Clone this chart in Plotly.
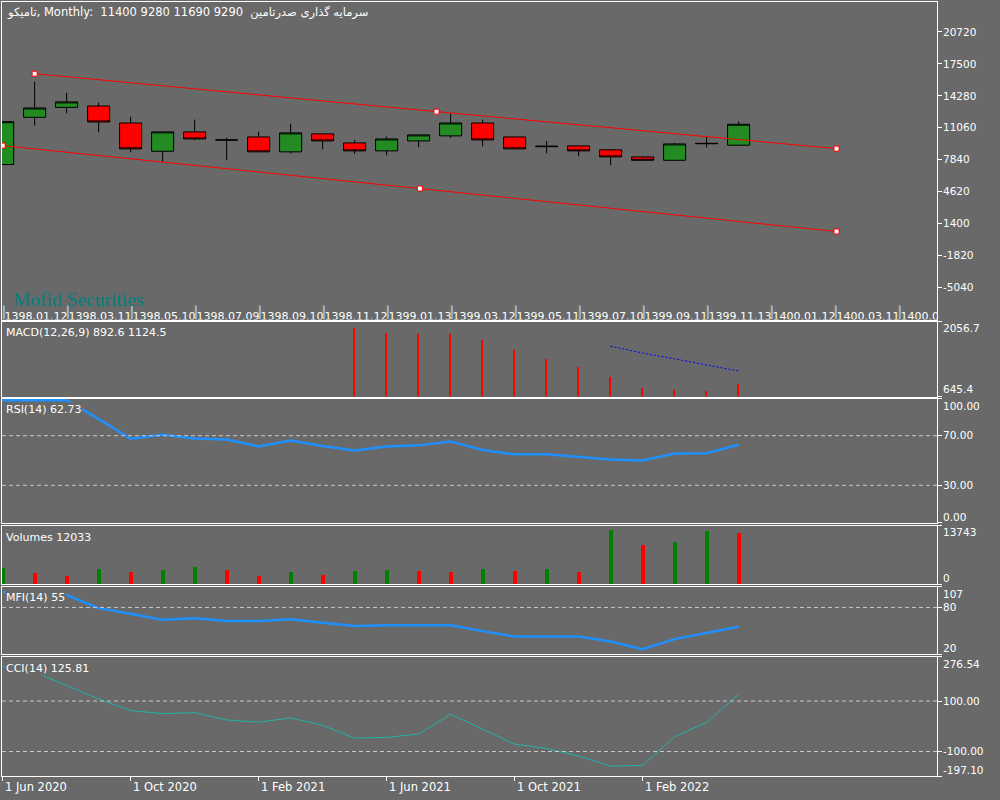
import plotly.graph_objects as go

BG = "#696969"
FONT = "DejaVu Sans"

# monthly bars, Jun 2020 .. May 2022 (bar index 0..23)
bar_idx = list(range(24))
opens = [7340, 12100, 13100, 13240, 11530, 8680, 10630, 9820, 10120, 8620, 10430, 9520,
         8720, 9720, 10230, 11530, 10120, 9200, 9220, 8820, 8110, 7770, 9480, 9290]
highs = [11700, 15690, 14580, 13580, 12170, 10630, 11870, 10050, 10660, 11460, 10430, 9820,
         10150, 10330, 12470, 11870, 10120, 9720, 9220, 8920, 8210, 9520, 10230, 11690]
lows = [7300, 11260, 12500, 10590, 8580, 7610, 9820, 7770, 8620, 8470, 8880, 8410,
        8270, 9080, 10020, 9180, 8920, 8470, 8170, 7270, 7670, 7770, 9080, 9280]
closes = [11660, 13040, 13650, 11630, 8920, 10630, 9920, 9820, 8620, 10530, 9720, 8720,
          9920, 10330, 11530, 9820, 8920, 9150, 8720, 8110, 7770, 9420, 9450, 11400]

# channel lines (bar index, price)
upper_x = [1, 13.56, 26.06]
upper_y = [16494, 12670, 8947]
lower_x = [0.0, 13.04, 26.06]
lower_y = [9249, 4922, 595]

price_ticks = [20720, 17500, 14280, 11060, 7840, 4620, 1400, -1820, -5040]

jalali_pos = list(range(0, 30, 2))
jalali_labels = ["1398.01.12", "1398.03.11", "1398.05.10", "1398.07.09", "1398.09.10",
                 "1398.11.12", "1399.01.13", "1399.03.12", "1399.05.11", "1399.07.10",
                 "1399.09.11", "1399.11.13", "1400.01.12", "1400.03.11", "1400.05.10"]

macd_x = list(range(11, 24))
macd_hist = [1935, 1857, 1824, 1838, 1722, 1535, 1366, 1206, 1013, 819, 786, 761, 892.6]
signal_x = list(range(19, 24))
signal_vals = [1592, 1463, 1354, 1239, 1124.5]

rsi = [98.5, 98.5, 98.5, 83.5, 67.5, 70.8, 67.8, 67.0, 61.4, 66.2, 61.7, 58.0,
       61.2, 62.2, 65.4, 58.5, 55.0, 55.0, 53.2, 50.8, 50.0, 55.6, 55.8, 62.73]

volumes = [3890, 2696, 1980, 3650, 2935, 3412, 4128, 3412, 1980, 2935, 2219, 3173,
           3412, 3173, 2935, 3650, 3173, 3650, 2935, 12717, 9377, 10093, 12479, 12033]

mfi = [100, 97.5, 96, 79.1, 71.8, 64.0, 66.0, 62.6, 62.6, 64.7, 60.4, 56.1,
       56.9, 56.9, 56.9, 49.5, 42.6, 42.6, 42.6, 36.1, 26.2, 39.2, 47.4, 55]

cci = [238, 215, 161, 108, 62, 50, 54, 25, 16, 33, 4, -47,
       -44, -31, 48, -11, -71, -88, -118, -158, -155, -42, 16, 125.81]

month_ticks = [0, 4, 8, 12, 16, 20]
month_labels = ["1 Jun 2020", "1 Oct 2020", "1 Feb 2021", "1 Jun 2021", "1 Oct 2021", "1 Feb 2022"]

vol_colors = ["#008000"] + ["#008000" if volumes[k] > volumes[k - 1] else "#FF0000"
                            for k in range(1, len(volumes))]

# panel pixel bounds (top, bottom)
panels = [(2, 319.5), (321.5, 396.5), (398.5, 522.5), (525.5, 584), (586.5, 654), (656.5, 776)]
ranges = [[-8270, 23717], [645.4, 2056.7], [0, 100], [0, 13743], [20, 107], [-197.10, 276.54]]
tickvals = [price_ticks, [645.4, 2056.7], [0, 30, 70, 100], [0, 13743], [20, 80, 107],
            [-197.10, -100, 100, 276.54]]

fig = go.Figure()

fig.add_trace(go.Candlestick(
    x=bar_idx, open=opens, high=highs, low=lows, close=closes,
    increasing=dict(fillcolor="#228B22", line=dict(color="black", width=1)),
    decreasing=dict(fillcolor="#FF0000", line=dict(color="black", width=1)),
    whiskerwidth=0, xaxis="x", yaxis="y", hoverinfo="skip"))

for cx, cy in [(upper_x, upper_y), (lower_x, lower_y)]:
    fig.add_trace(go.Scatter(
        x=cx, y=cy, mode="lines+markers", line=dict(color="#FF0000", width=1),
        marker=dict(symbol="square", size=5, color="white", line=dict(color="#FF0000", width=1)),
        xaxis="x", yaxis="y"))

# separator marks for the date strip
mk_top, mk_bot = -6856, -8270
for off, col in [(-0.03, "#E8A868"), (0.0, "#9CC8F0")]:
    xs, ys = [], []
    for p in jalali_pos:
        xs += [p + off + 0.05, p + off + 0.05, None]
        ys += [mk_bot, mk_top, None]
    fig.add_trace(go.Scatter(x=xs, y=ys, mode="lines", line=dict(color=col, width=1),
                             xaxis="x", yaxis="y", hoverinfo="skip"))

fig.add_trace(go.Scatter(
    x=[p + 0.06 for p in jalali_pos], y=[-8050] * len(jalali_pos), mode="text",
    text=jalali_labels, textposition="middle right",
    textfont=dict(family=FONT, size=11, color="white"), xaxis="x", yaxis="y"))

fig.add_trace(go.Bar(x=macd_x, y=macd_hist, width=0.05, marker=dict(color="#FF0000", line=dict(width=0)),
                     xaxis="x2", yaxis="y2"))
fig.add_trace(go.Scatter(x=signal_x, y=signal_vals, mode="lines",
                         line=dict(color="#0000FF", width=1, dash="2px,2px"), xaxis="x2", yaxis="y2"))

fig.add_trace(go.Scatter(x=bar_idx, y=rsi, mode="lines", line=dict(color="#1E90FF", width=2.5),
                         xaxis="x3", yaxis="y3"))

fig.add_trace(go.Bar(x=bar_idx, y=volumes, width=0.125, marker=dict(color=vol_colors, line=dict(width=0)),
                     xaxis="x4", yaxis="y4"))

fig.add_trace(go.Scatter(x=bar_idx, y=mfi, mode="lines", line=dict(color="#1E90FF", width=2.5),
                         xaxis="x5", yaxis="y5"))

fig.add_trace(go.Scatter(x=bar_idx, y=cci, mode="lines", line=dict(color="#20B2AA", width=1),
                         xaxis="x6", yaxis="y6"))

layout = dict(
    width=1000, height=800, paper_bgcolor=BG, plot_bgcolor=BG,
    margin=dict(l=0, r=0, t=0, b=0), showlegend=False, bargap=0,
    boxgap=0.31, boxgroupgap=0,
    font=dict(family=FONT, size=11, color="white"),
)
xr = [-0.02, 29.2]
for k, (top, bot) in enumerate(panels):
    n = "" if k == 0 else str(k + 1)
    last = k == len(panels) - 1
    layout["xaxis" + n] = dict(
        domain=[0.002, 0.937], range=xr, anchor="y" + n, showgrid=False, zeroline=False,
        showline=True, mirror=True, linecolor="white", linewidth=1,
        tickvals=month_ticks if last else [], ticks="outside" if last else "",
        ticklen=4, tickcolor="white", showticklabels=False, fixedrange=True,
        rangeslider=dict(visible=False))
    layout["yaxis" + n] = dict(
        domain=[1 - bot / 800, 1 - top / 800], range=ranges[k], anchor="x" + n, side="right",
        showgrid=False, zeroline=False, showline=True, mirror=True, linecolor="white",
        linewidth=1, tickvals=tickvals[k], ticks="outside", ticklen=4, tickcolor="white",
        showticklabels=False)
fig.update_layout(**layout)

# dashed levels
for yref, lv in [("y3", 70), ("y3", 30), ("y5", 80), ("y6", 100), ("y6", -100)]:
    fig.add_shape(type="line", xref=yref.replace("y", "x") + " domain",
                  x0=0, x1=1, yref=yref, y0=lv, y1=lv,
                  line=dict(color="#C8C8C8", width=1, dash="4px,3px"))

ann = []
def label(x, y, text, xanchor="left", size=11, color="white", family=FONT, bg=None):
    a = dict(x=x / 1000, y=1 - y / 800, xref="paper", yref="paper", text=text, showarrow=False,
             xanchor=xanchor, yanchor="middle", font=dict(family=family, size=size, color=color),
             borderpad=0)
    if bg:
        a["bgcolor"] = bg
    ann.append(a)

label(6, 13, "تامیکو, Monthly:  11400 9280 11690 9290  سرمایه گذاری صدرتامین", size=11.5, bg=BG)
label(12, 299, "Mofid Securities", size=19.5, color="#008080", family="Liberation Serif")
label(5, 332, "MACD(12,26,9) 892.6 1124.5", bg=BG)
label(5, 409, "RSI(14) 62.73", bg=BG)
label(5, 537, "Volumes 12033", bg=BG)
label(5, 597, "MFI(14) 55", bg=BG)
label(5, 668, "CCI(14) 125.81", bg=BG)

# right-hand scale labels
for p in price_ticks:
    ypx = 31.7 + (20720 - p) / 100.9
    label(942, ypx, str(p), size=10.5)
for txt, ypx in [("2056.7", 328), ("645.4", 389), ("100.00", 405.5), ("70.00", 435.3),
                 ("30.00", 485.3), ("0.00", 516.5), ("13743", 532), ("0", 577.5),
                 ("107", 594), ("80", 607.3), ("20", 647.5), ("276.54", 664),
                 ("100.00", 701.3), ("-100.00", 751.3), ("-197.10", 770)]:
    label(942, ypx, txt, size=10.5)

for p, txt in zip(month_ticks, month_labels):
    ann.append(dict(x=p + 0.02, y=1 - 787 / 800, xref="x6", yref="paper", text=txt,
                    showarrow=False, xanchor="left", yanchor="middle",
                    font=dict(family=FONT, size=11.5, color="white")))

fig.update_layout(annotations=ann)
fig.write_html("out.html", config={"displayModeBar": False},
               post_script="document.body.style.margin='0px';")
